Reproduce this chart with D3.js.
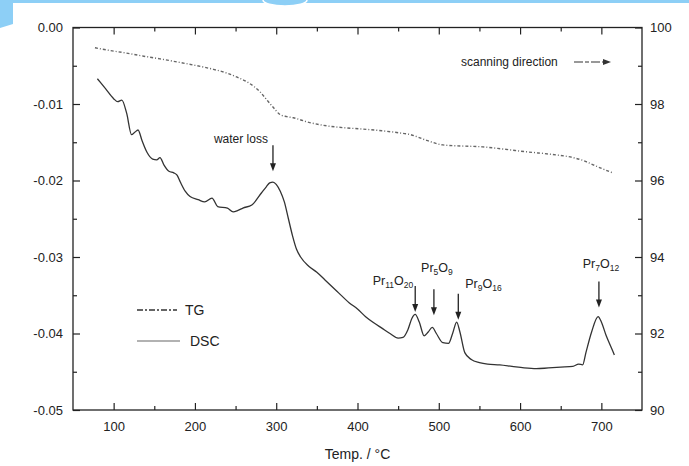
<!DOCTYPE html>
<html>
<head>
<meta charset="utf-8">
<script src="https://cdn.jsdelivr.net/npm/d3@7/dist/d3.min.js"></script>
<style>
  body { margin: 0; background: #fff; }
  svg text { font-family: "Liberation Sans", Arial, Helvetica, sans-serif; fill: #222; }
</style>
</head>
<body>
<svg id="chart" width="689" height="466"></svg>
<script>
// DSC curve (left axis)
const dscTemp = [80, 90, 100, 105, 110, 116, 122, 126, 130, 135, 141, 148, 153, 157, 162, 168, 174, 178, 182, 188,
  194, 204, 212, 221, 228, 240, 247, 253, 259, 270, 282, 288, 292, 296, 300, 305, 310, 315, 320, 325,
  330, 340, 350, 360, 375, 390, 400, 410, 420, 430, 440, 450, 456, 462, 467, 471, 476, 482, 487, 492,
  497, 505, 512, 517, 522, 526, 532, 540, 550, 560, 575, 590, 605, 620, 635, 650, 665, 672, 677, 681,
  688, 696, 700, 706, 712, 716];
const dscValue = [-0.0067, -0.0080, -0.0093, -0.0097, -0.0095, -0.0112, -0.0140, -0.0137, -0.0134, -0.0148, -0.0163, -0.0172, -0.0173, -0.0170, -0.0180, -0.0188, -0.0190, -0.0193, -0.0202, -0.0214,
  -0.0221, -0.0225, -0.0228, -0.0223, -0.0234, -0.0236, -0.0241, -0.0239, -0.0236, -0.0232, -0.0216, -0.0208, -0.0203, -0.0202, -0.0205, -0.0214, -0.0228, -0.0250, -0.0272, -0.0290,
  -0.0300, -0.0312, -0.0320, -0.0330, -0.0345, -0.0360, -0.0368, -0.0378, -0.0386, -0.0393, -0.0400, -0.0406, -0.0405, -0.0395, -0.0380, -0.0375, -0.0385, -0.0403, -0.0398, -0.0392,
  -0.0400, -0.0412, -0.0413, -0.0400, -0.0385, -0.0398, -0.0425, -0.0434, -0.0438, -0.0440, -0.0441, -0.0443, -0.0445, -0.0446, -0.0445, -0.0444, -0.0443, -0.0440, -0.0441, -0.0425,
  -0.0398, -0.0378, -0.0385, -0.0403, -0.0418, -0.0428];

// TG curve (right axis, mass %)
const tgTemp = [77, 95, 116, 137, 157, 178, 198, 220, 239, 252, 264, 273, 280, 288, 296, 305, 313, 321, 340, 362,
  383, 403, 430, 450, 465, 485, 505, 530, 554, 580, 608, 640, 665, 678, 690, 702, 714];
const tgValue = [99.47, 99.40, 99.33, 99.25, 99.18, 99.10, 99.02, 98.92, 98.81, 98.70, 98.58, 98.45, 98.32, 98.12, 97.92, 97.72, 97.67, 97.64, 97.52, 97.43,
  97.38, 97.35, 97.30, 97.25, 97.20, 97.05, 96.93, 96.90, 96.88, 96.82, 96.75, 96.68, 96.60, 96.52, 96.41, 96.30, 96.20];

// axes
const xTicks = [100, 200, 300, 400, 500, 600, 700];
const xMinorTicks = [150, 250, 350, 450, 550, 650];
const leftTicks = [0, -0.01, -0.02, -0.03, -0.04, -0.05];
const leftTickLabels = ["0.00", "-0.01", "-0.02", "-0.03", "-0.04", "-0.05"];
const leftMinorTicks = [-0.005, -0.015, -0.025, -0.035, -0.045];
const rightTicks = [90, 92, 94, 96, 98, 100];
const rightMinorTicks = [91, 93, 95, 97, 99];

// annotated peaks
const peakTemp = [296, 471, 494, 524, 697];
const peakTip = [-0.0188, -0.0372, -0.0376, -0.0382, -0.0366];
const peakName = [["water loss"], ["Pr", "11", "O", "20"], ["Pr", "5", "O", "9"], ["Pr", "9", "O", "16"], ["Pr", "7", "O", "12"]];

const svg = d3.select("#chart");
const margin = { top: 27.5, right: 47, bottom: 56, left: 73 };
const W = 689, H = 466;

// decoration strip from the source page
svg.append("rect").attr("x", 0).attr("y", 0).attr("width", W).attr("height", 3).attr("fill", "#8dcff6");
svg.append("path").attr("d", "M0,0 L13,0 L13,24 L0,28 Z").attr("fill", "#8dcff6");
svg.append("ellipse").attr("cx", 285).attr("cy", 0).attr("rx", 22).attr("ry", 6)
  .attr("fill", "#8dcff6").attr("stroke", "#fff").attr("stroke-width", 1.5);

const x = d3.scaleLinear().domain([50, 750]).range([margin.left, W - margin.right]);
const yL = d3.scaleLinear().domain([-0.05, 0]).range([H - margin.bottom, margin.top]);
const yR = d3.scaleLinear().domain([90, 100]).range([H - margin.bottom, margin.top]);

const axisColor = "#222";

function styleAxis(g) {
  g.select(".domain").remove();
  g.selectAll("line").attr("stroke", axisColor).attr("stroke-width", 1.2);
  g.selectAll("text").attr("font-size", 13).attr("fill", "#222")
    .attr("font-family", '"Liberation Sans", Arial, sans-serif');
}

// bottom axis
svg.append("g").attr("transform", `translate(0,${yL(-0.05)})`)
  .call(d3.axisBottom(x).tickValues(xTicks).tickSize(-7).tickPadding(12).tickFormat(d3.format("d")))
  .call(styleAxis);
svg.append("g").attr("transform", `translate(0,${yL(-0.05)})`)
  .call(d3.axisBottom(x).tickValues(xMinorTicks).tickSize(-4).tickFormat(""))
  .call(styleAxis);
// top axis
svg.append("g").attr("transform", `translate(0,${yL(0)})`)
  .call(d3.axisTop(x).tickValues(xTicks).tickSize(-7).tickFormat(""))
  .call(styleAxis);
svg.append("g").attr("transform", `translate(0,${yL(0)})`)
  .call(d3.axisTop(x).tickValues(xMinorTicks).tickSize(-4).tickFormat(""))
  .call(styleAxis);
// left axis
svg.append("g").attr("transform", `translate(${x(50)},0)`)
  .call(d3.axisLeft(yL).tickValues(leftTicks).tickSize(-7).tickPadding(10)
    .tickFormat((d, i) => leftTickLabels[i]))
  .call(styleAxis);
svg.append("g").attr("transform", `translate(${x(50)},0)`)
  .call(d3.axisLeft(yL).tickValues(leftMinorTicks).tickSize(-4).tickFormat(""))
  .call(styleAxis);
// right axis
svg.append("g").attr("transform", `translate(${x(750)},0)`)
  .call(d3.axisRight(yR).tickValues(rightTicks).tickSize(-7).tickPadding(8).tickFormat(d3.format("d")))
  .call(styleAxis);
svg.append("g").attr("transform", `translate(${x(750)},0)`)
  .call(d3.axisRight(yR).tickValues(rightMinorTicks).tickSize(-4).tickFormat(""))
  .call(styleAxis);

// frame
svg.append("rect")
  .attr("x", x(50)).attr("y", yL(0))
  .attr("width", x(750) - x(50)).attr("height", yL(-0.05) - yL(0))
  .attr("fill", "none").attr("stroke", axisColor).attr("stroke-width", 1.3);

// axis title
svg.append("text").attr("x", (x(50) + x(750)) / 2).attr("y", 459)
  .attr("text-anchor", "middle").attr("font-size", 14).text("Temp. / °C");

// curves
const dscData = dscTemp.map((t, i) => [t, dscValue[i]]);
const tgData = tgTemp.map((t, i) => [t, tgValue[i]]);

svg.append("path").datum(dscData)
  .attr("d", d3.line().x(d => x(d[0])).y(d => yL(d[1])).curve(d3.curveMonotoneX))
  .attr("fill", "none").attr("stroke", "#333").attr("stroke-width", 1.3);

svg.append("path").datum(tgData)
  .attr("d", d3.line().x(d => x(d[0])).y(d => yR(d[1])).curve(d3.curveMonotoneX))
  .attr("fill", "none").attr("stroke", "#666").attr("stroke-width", 1.4)
  .attr("stroke-dasharray", "3,2,1,2");

// legend
const legend = svg.append("g");
legend.append("line").attr("x1", 137).attr("x2", 177).attr("y1", 310).attr("y2", 310)
  .attr("stroke", "#333").attr("stroke-width", 1.3).attr("stroke-dasharray", "6,2,2,2");
legend.append("text").attr("x", 185).attr("y", 315).attr("font-size", 14).text("TG");
legend.append("line").attr("x1", 137).attr("x2", 180).attr("y1", 341).attr("y2", 341)
  .attr("stroke", "#666").attr("stroke-width", 1.1);
legend.append("text").attr("x", 190).attr("y", 346).attr("font-size", 14).text("DSC");

// scanning direction note
svg.append("text").attr("x", 461).attr("y", 66).attr("font-size", 12).text("scanning direction");
svg.append("line").attr("x1", 574).attr("x2", 604).attr("y1", 62).attr("y2", 62)
  .attr("stroke", "#333").attr("stroke-width", 1.2).attr("stroke-dasharray", "9,2,4,2");
svg.append("path").attr("d", "M603,59 L611,62 L603,65 Z").attr("fill", "#333");

// peak arrows and labels
const labelLayout = [
  { dx: -5, dy: -2, anchor: "end" },
  { dx: -2, dy: -1, anchor: "end" },
  { dx: 3, dy: -17, anchor: "middle" },
  { dx: 7, dy: -6, anchor: "start" },
  { dx: 2, dy: -13, anchor: "middle" }
];
const arrowLen = 26;

peakTemp.forEach((t, i) => {
  const ax = x(t), tipY = yL(peakTip[i]), topY = tipY - arrowLen;
  svg.append("line").attr("x1", ax).attr("x2", ax).attr("y1", topY).attr("y2", tipY - 6)
    .attr("stroke", "#222").attr("stroke-width", 1.3);
  svg.append("path").attr("d", `M${ax - 3},${tipY - 8} L${ax + 3},${tipY - 8} L${ax},${tipY} Z`)
    .attr("fill", "#222");

  const lay = labelLayout[i];
  const txt = svg.append("text").attr("x", ax + lay.dx).attr("y", topY + lay.dy)
    .attr("text-anchor", lay.anchor).attr("font-size", i === 0 ? 12 : 12.5);
  const parts = peakName[i];
  parts.forEach((p, k) => {
    const sub = k % 2 === 1;
    txt.append("tspan").attr("font-size", sub ? 8.5 : null)
      .attr("dy", sub ? 3 : (k > 0 ? -3 : 0)).text(p);
  });
});
</script>
</body>
</html>
